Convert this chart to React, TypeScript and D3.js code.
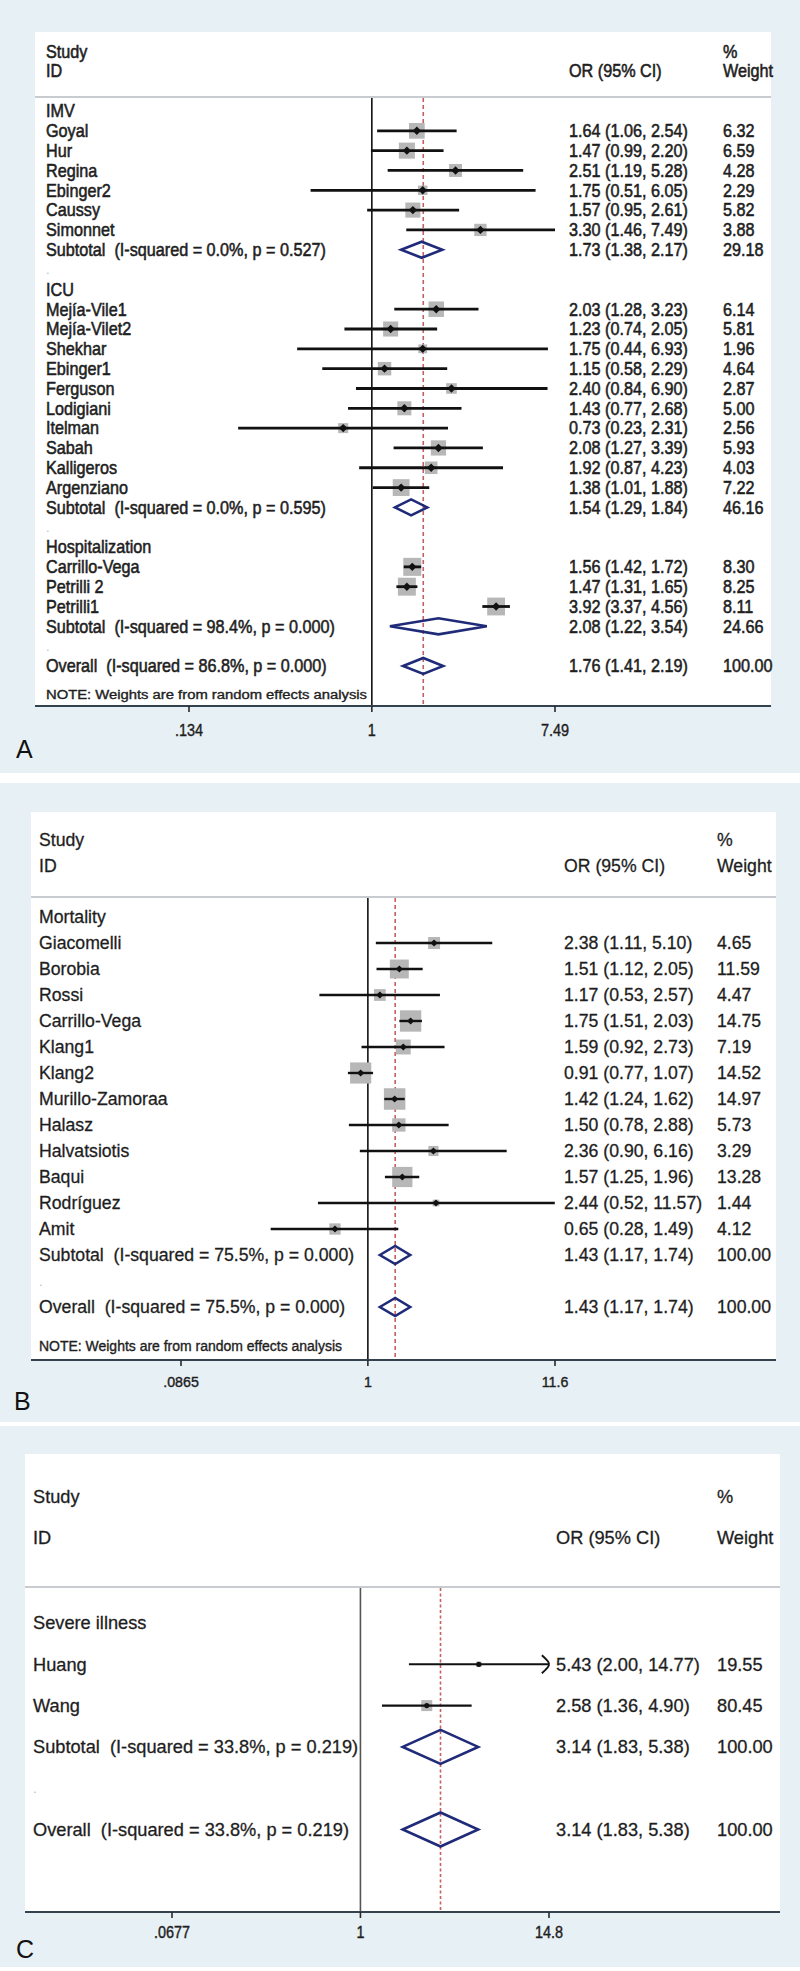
import React from 'react';
import * as d3 from 'd3';

type Row = [string, string, number?, number?, number?, number?];

// ---------- DATA ----------
const rowsA: Row[] = [
  ['group', 'IMV'],
  ['study', 'Goyal', 1.64, 1.06, 2.54, 6.32],
  ['study', 'Hur', 1.47, 0.99, 2.2, 6.59],
  ['study', 'Regina', 2.51, 1.19, 5.28, 4.28],
  ['study', 'Ebinger2', 1.75, 0.51, 6.05, 2.29],
  ['study', 'Caussy', 1.57, 0.95, 2.61, 5.82],
  ['study', 'Simonnet', 3.3, 1.46, 7.49, 3.88],
  ['sub', 'Subtotal  (I-squared = 0.0%, p = 0.527)', 1.73, 1.38, 2.17, 29.18],
  ['blank', '.'],
  ['group', 'ICU'],
  ['study', 'Mejía-Vile1', 2.03, 1.28, 3.23, 6.14],
  ['study', 'Mejía-Vilet2', 1.23, 0.74, 2.05, 5.81],
  ['study', 'Shekhar', 1.75, 0.44, 6.93, 1.96],
  ['study', 'Ebinger1', 1.15, 0.58, 2.29, 4.64],
  ['study', 'Ferguson', 2.4, 0.84, 6.9, 2.87],
  ['study', 'Lodigiani', 1.43, 0.77, 2.68, 5.0],
  ['study', 'Itelman', 0.73, 0.23, 2.31, 2.56],
  ['study', 'Sabah', 2.08, 1.27, 3.39, 5.93],
  ['study', 'Kalligeros', 1.92, 0.87, 4.23, 4.03],
  ['study', 'Argenziano', 1.38, 1.01, 1.88, 7.22],
  ['sub', 'Subtotal  (I-squared = 0.0%, p = 0.595)', 1.54, 1.29, 1.84, 46.16],
  ['blank', '.'],
  ['group', 'Hospitalization'],
  ['study', 'Carrillo-Vega', 1.56, 1.42, 1.72, 8.3],
  ['study', 'Petrilli 2', 1.47, 1.31, 1.65, 8.25],
  ['study', 'Petrilli1', 3.92, 3.37, 4.56, 8.11],
  ['sub', 'Subtotal  (I-squared = 98.4%, p = 0.000)', 2.08, 1.22, 3.54, 24.66],
  ['blank', '.'],
  ['overall', 'Overall  (I-squared = 86.8%, p = 0.000)', 1.76, 1.41, 2.19, 100.0],
];

const rowsB: Row[] = [
  ['group', 'Mortality'],
  ['study', 'Giacomelli', 2.38, 1.11, 5.1, 4.65],
  ['study', 'Borobia', 1.51, 1.12, 2.05, 11.59],
  ['study', 'Rossi', 1.17, 0.53, 2.57, 4.47],
  ['study', 'Carrillo-Vega', 1.75, 1.51, 2.03, 14.75],
  ['study', 'Klang1', 1.59, 0.92, 2.73, 7.19],
  ['study', 'Klang2', 0.91, 0.77, 1.07, 14.52],
  ['study', 'Murillo-Zamoraa', 1.42, 1.24, 1.62, 14.97],
  ['study', 'Halasz', 1.5, 0.78, 2.88, 5.73],
  ['study', 'Halvatsiotis', 2.36, 0.9, 6.16, 3.29],
  ['study', 'Baqui', 1.57, 1.25, 1.96, 13.28],
  ['study', 'Rodríguez', 2.44, 0.52, 11.57, 1.44],
  ['study', 'Amit', 0.65, 0.28, 1.49, 4.12],
  ['sub', 'Subtotal  (I-squared = 75.5%, p = 0.000)', 1.43, 1.17, 1.74, 100.0],
  ['blank', '.'],
  ['overall', 'Overall  (I-squared = 75.5%, p = 0.000)', 1.43, 1.17, 1.74, 100.0],
];

const rowsC: Row[] = [
  ['group', 'Severe illness'],
  ['study', 'Huang', 5.43, 2.0, 14.77, 19.55],
  ['study', 'Wang', 2.58, 1.36, 4.9, 80.45],
  ['sub', 'Subtotal  (I-squared = 33.8%, p = 0.219)', 3.14, 1.83, 5.38, 100.0],
  ['blank', '.'],
  ['overall', 'Overall  (I-squared = 33.8%, p = 0.219)', 3.14, 1.83, 5.38, 100.0],
];

const ticksA = [0.134, 1, 7.49];
const ticksB = [0.0865, 1, 11.6];
const ticksC = [0.0677, 1, 14.8];
const tickLabelsA = ['.134', '1', '7.49'];
const tickLabelsB = ['.0865', '1', '11.6'];
const tickLabelsC = ['.0677', '1', '14.8'];
const clippedC = ['Huang'];

const noteText = 'NOTE: Weights are from random effects analysis';
const headers = { study: 'Study', id: 'ID', or: 'OR (95% CI)', pct: '%', weight: 'Weight' };

// ---------- LAYOUT ----------
const panels = [
  {
    letter: 'A', rows: rowsA, ticks: ticksA, tickLabels: tickLabelsA, clipped: [] as string[],
    bg: [0, 773], bx: [35, 771], top: 32, sep: 97, axis: 706,
    textX: 46, orX: 569, wX: 723, headY: [52, 71], row0: 111, step: 19.82,
    xRange: [189, 555], font: 18, sx: 0.9, tickFont: 17, tickSx: 0.85, tickY: 730,
    letterPos: [16, 758], note: { y: 695, size: 12, len: 321 } as null | { y: number; size: number; len: number },
    ciW: 2.8, mark: 4.2, boxMax: 18, dH: 8, nullColor: '#111', dash: '4,3', textStroke: 0.55,
  },
  {
    letter: 'B', rows: rowsB, ticks: ticksB, tickLabels: tickLabelsB, clipped: [] as string[],
    bg: [783, 1422], bx: [31, 776], top: 812, sep: 897, axis: 1360,
    textX: 39, orX: 564, wX: 717, headY: [840, 866], row0: 917, step: 26,
    xRange: [181, 555], font: 18.5, sx: 0.955, tickFont: 15, tickSx: 0.95, tickY: 1382,
    letterPos: [14, 1410], note: { y: 1346, size: 14, len: 303 } as null | { y: number; size: number; len: number },
    ciW: 2.4, mark: 3.6, boxMax: 21.5, dH: 9, nullColor: '#111', dash: '4,3', textStroke: 0.3,
  },
  {
    letter: 'C', rows: rowsC, ticks: ticksC, tickLabels: tickLabelsC, clipped: clippedC,
    bg: [1426, 1967], bx: [25, 780], top: 1454, sep: 1587, axis: 1912,
    textX: 33, orX: 556, wX: 717, headY: [1497, 1538], row0: 1623, step: 41.3,
    xRange: [172, 549], font: 18.5, sx: 0.985, tickFont: 16, tickSx: 0.9, tickY: 1932,
    letterPos: [16, 1958], note: null as null | { y: number; size: number; len: number },
    ciW: 2.1, mark: 2.6, boxMax: 11, dH: 17, nullColor: '#555', dash: '3,2.5', textStroke: 0.3,
  },
];

const FONT = '"Liberation Sans", Arial, Helvetica, sans-serif';
const TEXT = '#1e1e1e';
const BG = '#e7f0f4';
const NAVY = '#1f2b78';
const RED = '#c4605f';
const BOX = '#b7b7b7';
const f2 = d3.format('.2f');

function Txt(p: {
  x: number; y: number; s: number; sx: number; fill?: string; children: React.ReactNode;
  anchor?: string; stroke?: number;
}) {
  return (
    <text
      transform={`translate(${p.x},${p.y}) scale(${p.sx},1)`}
      fontSize={p.s}
      fontFamily={FONT}
      fill={p.fill || TEXT}
      stroke={p.stroke ? p.fill || TEXT : 'none'}
      strokeWidth={p.stroke || 0}
      dy="0.35em"
      textAnchor={p.anchor || 'start'}
      style={{ whiteSpace: 'pre' }}
    >
      {p.children}
    </text>
  );
}

function Panel({ P }: { P: (typeof panels)[number] }) {
  const x = d3.scaleLog().domain([P.ticks[0], P.ticks[2]]).range(P.xRange);
  const y = (i: number) => P.row0 + i * P.step;
  const overall = P.rows.find((r) => r[0] === 'overall')!;
  const studies = P.rows.filter((r) => r[0] === 'study');
  const maxW = d3.max(studies, (r) => r[5] as number) as number;
  const boxSide = d3.scaleSqrt().domain([0, maxW]).range([0, P.boxMax]);
  const plotTop = P.sep + 1;
  const ts = P.textStroke;

  return (
    <g>
      <rect x={0} y={P.bg[0]} width={800} height={P.bg[1] - P.bg[0]} fill={BG} />
      <rect x={P.bx[0]} y={P.top} width={P.bx[1] - P.bx[0]} height={P.axis - P.top} fill="#ffffff" />
      <line x1={P.bx[0]} x2={P.bx[1]} y1={P.sep} y2={P.sep} stroke="#c8ccd0" strokeWidth={2} />

      {/* headers */}
      <Txt x={P.textX} y={P.headY[0]} s={P.font} sx={P.sx} stroke={ts}>{headers.study}</Txt>
      <Txt x={P.textX} y={P.headY[1]} s={P.font} sx={P.sx} stroke={ts}>{headers.id}</Txt>
      <Txt x={P.orX} y={P.headY[1]} s={P.font} sx={P.sx} stroke={ts}>{headers.or}</Txt>
      <Txt x={P.wX} y={P.headY[0]} s={P.font} sx={P.sx} stroke={ts}>{headers.pct}</Txt>
      <Txt x={P.wX} y={P.headY[1]} s={P.font} sx={P.sx} stroke={ts}>{headers.weight}</Txt>

      {/* reference lines */}
      <line x1={x(1)} x2={x(1)} y1={plotTop} y2={P.axis} stroke={P.nullColor} strokeWidth={1.6} />
      <line
        x1={x(overall[2] as number)} x2={x(overall[2] as number)} y1={plotTop} y2={P.axis}
        stroke={RED} strokeWidth={1.6} strokeDasharray={P.dash}
      />

      {/* rows */}
      {P.rows.map((r, i) => {
        const yy = y(i);
        const [kind, label, est, lo, hi, w] = r;
        if (kind === 'blank') {
          return <Txt key={i} x={P.textX} y={yy} s={P.font * 0.7} sx={1} fill="#9fbdd3">{label}</Txt>;
        }
        if (kind === 'group') {
          return <Txt key={i} x={P.textX} y={yy} s={P.font} sx={P.sx} stroke={ts}>{label}</Txt>;
        }
        const ciText = `${f2(est as number)} (${f2(lo as number)}, ${f2(hi as number)})`;
        const texts = (
          <>
            <Txt x={P.textX} y={yy} s={P.font} sx={P.sx} stroke={ts}>{label}</Txt>
            <Txt x={P.orX} y={yy} s={P.font} sx={P.sx} stroke={ts}>{ciText}</Txt>
            <Txt x={P.wX} y={yy} s={P.font} sx={P.sx} stroke={ts}>{f2(w as number)}</Txt>
          </>
        );
        if (kind === 'study') {
          const side = boxSide(w as number);
          const xe = x(est as number);
          const xl = x(lo as number);
          const xh = x(hi as number);
          const clipped = P.clipped.includes(label);
          return (
            <g key={i}>
              <rect x={xe - side / 2} y={yy - side / 2} width={side} height={side} fill={BOX} />
              <line x1={xl} x2={xh} y1={yy} y2={yy} stroke="#111" strokeWidth={P.ciW} />
              {clipped && (
                <path
                  d={`M${xh - 7},${yy - 9} Q${xh + 1},${yy - 2} ${xh},${yy} Q${xh + 1},${yy + 2} ${xh - 7},${yy + 9}`}
                  fill="none" stroke="#111" strokeWidth={2}
                />
              )}
              {P.letter === 'C' ? (
                <circle cx={xe} cy={yy} r={P.mark} fill="#111" />
              ) : (
                <path
                  d={`M${xe - P.mark},${yy} L${xe},${yy - P.mark} L${xe + P.mark},${yy} L${xe},${yy + P.mark} Z`}
                  fill="#111"
                />
              )}
              {texts}
            </g>
          );
        }
        // subtotal / overall diamond
        const xe = x(est as number);
        const xl = x(lo as number);
        const xh = x(hi as number);
        return (
          <g key={i}>
            <path
              d={`M${xl},${yy} L${xe},${yy - P.dH} L${xh},${yy} L${xe},${yy + P.dH} Z`}
              fill="none" stroke={NAVY} strokeWidth={2.6} strokeLinejoin="miter"
            />
            {texts}
          </g>
        );
      })}

      {P.note && (
        <text
          x={P.textX} y={P.note.y} dy="0.35em" fontSize={P.note.size} fontFamily={FONT} fill={TEXT}
          stroke={TEXT} strokeWidth={0.35}
          textLength={P.note.len} lengthAdjust="spacingAndGlyphs"
        >
          {noteText}
        </text>
      )}

      {/* axis */}
      <line x1={P.bx[0]} x2={P.bx[1]} y1={P.axis} y2={P.axis} stroke="#34414e" strokeWidth={2.2} />
      {P.ticks.map((t, k) => (
        <g key={k}>
          <line x1={x(t)} x2={x(t)} y1={P.axis} y2={P.axis + 6} stroke="#2a2a2a" strokeWidth={1.6} />
          <Txt x={x(t)} y={P.tickY} s={P.tickFont} sx={P.tickSx} anchor="middle" stroke={0.4}>
            {P.tickLabels[k]}
          </Txt>
        </g>
      ))}

      <text x={P.letterPos[0]} y={P.letterPos[1]} fontSize={25} fontFamily={FONT} fill="#111">{P.letter}</text>
    </g>
  );
}

export default function App() {
  return (
    <svg
      width={800}
      height={1971}
      viewBox="0 0 800 1971"
      style={{ position: 'absolute', left: 0, top: 0, background: '#ffffff' }}
    >
      {panels.map((P) => (
        <Panel key={P.letter} P={P} />
      ))}
    </svg>
  );
}
